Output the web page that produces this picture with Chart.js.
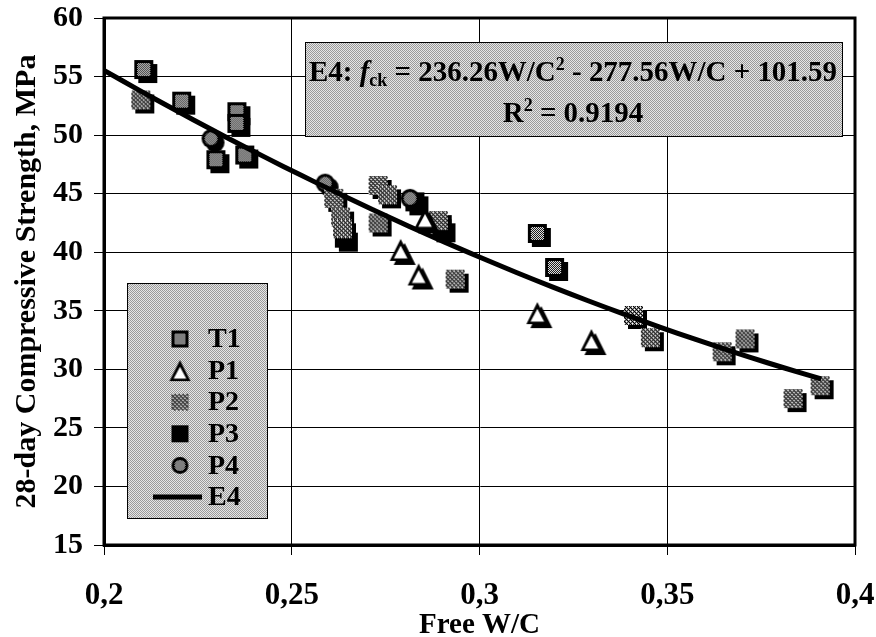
<!DOCTYPE html>
<html lang="en">
<head>
<meta charset="UTF-8">
<title>28-day Compressive Strength vs Free W/C</title>
<script src="https://cdn.jsdelivr.net/npm/chart.js"></script>
<style>
  body { margin: 0; background: #fff; }
  canvas { display: block; }
</style>
</head>
<body>
<canvas id="strengthChart" width="876" height="637"></canvas>
<script>
// free W/C ratio and 28-day strength (MPa) for each mix series
const t1WC  = [0.2106, 0.2207, 0.2354, 0.2354, 0.2298, 0.2375, 0.3154, 0.3200];
const t1Fck = [55.6, 52.9, 52.0, 51.0, 47.9, 48.3, 41.6, 38.7];
const p1WC  = [0.2790, 0.2838, 0.2855, 0.3154, 0.3298];
const p1Fck = [40.2, 38.1, 42.9, 34.8, 32.5];
const p2WC  = [0.2098, 0.2612, 0.2630, 0.2635, 0.2730, 0.2755, 0.2730, 0.2890, 0.2935, 0.3410, 0.3455, 0.3646, 0.3707, 0.3835, 0.3907];
const p2Fck = [53.0, 44.6, 43.0, 42.0, 45.7, 44.9, 42.5, 42.7, 37.7, 34.6, 32.7, 31.5, 32.6, 27.5, 28.6];
const p3WC  = [0.2640, 0.2828, 0.2900];
const p3Fck = [41.2, 44.3, 42.0];
const p4WC  = [0.2285, 0.2589, 0.2815];
const p4Fck = [49.7, 45.9, 44.6];

// E4 fit: fck = a*wc^2 + b*wc + c
const e4Coef  = [236.26, -277.56, 101.59];
const e4R2    = 0.9194;
const e4Range = [0.2, 0.391];

const xTicks = [0.2, 0.25, 0.3, 0.35, 0.4];
const yTicks = [15, 20, 25, 30, 35, 40, 45, 50, 55, 60];

const FONT = "'Liberation Serif', 'Times New Roman', serif";

function pairs(xs, ys) {
  return xs.map((x, i) => ({ x: x, y: ys[i] }));
}

function e4Points() {
  const pts = [];
  for (let i = 0; i <= 40; i++) {
    const x = e4Range[0] + (e4Range[1] - e4Range[0]) * i / 40;
    pts.push({ x: x, y: e4Coef[0] * x * x + e4Coef[1] * x + e4Coef[2] });
  }
  return pts;
}

// 2x2 checker tile used for the screened fills
function tile(a, b) {
  const c = document.createElement('canvas');
  c.width = c.height = 2;
  const g = c.getContext('2d');
  g.fillStyle = b; g.fillRect(0, 0, 2, 2);
  g.fillStyle = a; g.fillRect(0, 0, 1, 1); g.fillRect(1, 1, 1, 1);
  return c;
}

function makeMarker(kind, s, off) {
  const pad = off + 2;
  const c = document.createElement('canvas');
  c.width = c.height = s + pad * 2;
  const g = c.getContext('2d');
  const x0 = pad, y0 = pad;
  const dots = g.createPattern(tile('#000', '#fff'), 'repeat');

  const tri = (dx, dy, inset) => {
    g.beginPath();
    g.moveTo(x0 + dx + s / 2, y0 + dy + inset * 1.9);
    g.lineTo(x0 + dx + s - inset * 1.2, y0 + dy + s - inset * 0.7);
    g.lineTo(x0 + dx + inset * 1.2, y0 + dy + s - inset * 0.7);
    g.closePath();
  };
  const circ = (dx, dy, r) => {
    g.beginPath();
    g.arc(x0 + dx + s / 2, y0 + dy + s / 2, r, 0, Math.PI * 2);
  };

  g.fillStyle = '#000';
  if (kind === 'square') {
    if (off) g.fillRect(x0 + off, y0 + off, s, s);
    g.fillRect(x0, y0, s, s);
    g.fillStyle = dots;
    g.fillRect(x0 + 3, y0 + 3, s - 6, s - 6);
  } else if (kind === 'hatch') {
    if (off) g.fillRect(x0 + off, y0 + off, s, s);
    g.fillStyle = '#fff';
    g.fillRect(x0, y0, s, s);
    g.save();
    g.beginPath(); g.rect(x0, y0, s, s); g.clip();
    g.strokeStyle = '#000'; g.lineWidth = 1.3;
    for (let k = -s; k < 2 * s; k += 4) {
      g.beginPath(); g.moveTo(x0 + k, y0); g.lineTo(x0 + k + s, y0 + s); g.stroke();
    }
    g.lineWidth = 0.8;
    for (let k = -s; k < 2 * s; k += 4) {
      g.beginPath(); g.moveTo(x0 + k + s, y0); g.lineTo(x0 + k, y0 + s); g.stroke();
    }
    g.restore();
  } else if (kind === 'black') {
    if (off) g.fillRect(x0 + off, y0 + off, s, s);
    g.fillRect(x0, y0, s, s);
  } else if (kind === 'circle') {
    if (off) { circ(off, off, s / 2); g.fill(); }
    circ(0, 0, s / 2); g.fill();
    g.fillStyle = dots;
    circ(0, 0, s / 2 - 3); g.fill();
  } else if (kind === 'triangle') {
    if (off) { tri(off, off, 0); g.fill(); }
    tri(0, 0, 0); g.fill();
    g.fillStyle = '#fff';
    tri(0, 0, 3.5); g.fill();
  }
  return c;
}

const markers = {
  T1: makeMarker('square', 19, 4),
  P1: makeMarker('triangle', 22, 4),
  P2: makeMarker('hatch', 19, 4),
  P3: makeMarker('black', 19, 4),
  P4: makeMarker('circle', 19, 4)
};
const legendMarkers = {
  T1: makeMarker('square', 17, 0),
  P1: makeMarker('triangle', 21, 0),
  P2: makeMarker('hatch', 17, 0),
  P3: makeMarker('black', 17, 0),
  P4: makeMarker('circle', 17, 0)
};

function screenFill(ctx) {
  return ctx.createPattern(tile('#9a9a9a', '#e6e6e6'), 'repeat');
}

// equation panel and legend panel drawn inside the plot
const panels = {
  id: 'panels',
  beforeDatasetsDraw(chart) {
    const ctx = chart.ctx;
    ctx.save();
    // equation box
    ctx.fillStyle = screenFill(ctx);
    ctx.fillRect(305, 42, 537, 94);
    ctx.strokeStyle = '#000'; ctx.lineWidth = 1;
    ctx.strokeRect(305.5, 42.5, 537, 94);
    // legend box
    ctx.fillStyle = screenFill(ctx);
    ctx.fillRect(127, 283, 140, 235);
    ctx.strokeRect(127.5, 283.5, 140, 235);
    ctx.restore();
  },
  afterDatasetsDraw(chart) {
    const ctx = chart.ctx;
    const a = chart.chartArea;
    ctx.save();
    // plot frame
    ctx.strokeStyle = '#000'; ctx.lineWidth = 3;
    ctx.strokeRect(a.left, a.top, a.right - a.left, a.bottom - a.top);

    // equation text
    const big = 'bold 29px ' + FONT, small = 'bold 18px ' + FONT;
    const parts = [
      { t: 'E4: ', f: big, dy: 0 },
      { t: 'f', f: 'italic bold 29px ' + FONT, dy: 0 },
      { t: 'ck', f: small, dy: 5 },
      { t: ' = ' + e4Coef[0].toFixed(2) + 'W/C', f: big, dy: 0 },
      { t: '2', f: small, dy: -11 },
      { t: ' - ' + (-e4Coef[1]).toFixed(2) + 'W/C + ' + e4Coef[2].toFixed(2), f: big, dy: 0 }
    ];
    let total = 0;
    parts.forEach(p => { ctx.font = p.f; p.w = ctx.measureText(p.t).width; total += p.w; });
    const sx = 528 / total;
    ctx.fillStyle = '#000';
    ctx.textBaseline = 'alphabetic';
    ctx.textAlign = 'left';
    ctx.save();
    ctx.translate(573 - total * sx / 2, 81);
    ctx.scale(sx, 1);
    let cx = 0;
    parts.forEach(p => { ctx.font = p.f; ctx.fillText(p.t, cx, p.dy); cx += p.w; });
    ctx.restore();

    // R^2 line
    const r1 = 'R', r2 = '2', r3 = ' = ' + e4R2.toFixed(4);
    ctx.font = big; const w1 = ctx.measureText(r1).width, w3 = ctx.measureText(r3).width;
    ctx.font = small; const w2 = ctx.measureText(r2).width;
    ctx.save();
    ctx.translate(573 - (w1 + w2 + w3) * sx / 2, 122);
    ctx.scale(sx, 1);
    ctx.font = big; ctx.fillText(r1, 0, 0);
    ctx.font = small; ctx.fillText(r2, w1, -11);
    ctx.font = big; ctx.fillText(r3, w1 + w2, 0);
    ctx.restore();

    // legend entries
    const names = ['T1', 'P1', 'P2', 'P3', 'P4', 'E4'];
    ctx.font = 'bold 28px ' + FONT;
    ctx.textBaseline = 'middle';
    names.forEach((n, i) => {
      const y = 339 + i * 31.6;
      if (n === 'E4') {
        ctx.fillRect(153, y - 2.5, 49, 5);
      } else {
        const m = legendMarkers[n];
        ctx.drawImage(m, 180 - m.width / 2, y - m.height / 2);
      }
      ctx.fillText(n, 208, y + 1);
    });
    ctx.restore();
  }
};

Chart.defaults.font.family = FONT;
Chart.defaults.font.weight = 'bold';
Chart.defaults.color = '#000';

const ctx = document.getElementById('strengthChart').getContext('2d');
new Chart(ctx, {
  type: 'scatter',
  data: {
    datasets: [
      { label: 'E4', data: e4Points(), showLine: true, borderColor: '#000', borderWidth: 5,
        pointRadius: 0, fill: false, order: 0 },
      { label: 'T1', data: pairs(t1WC, t1Fck), pointStyle: markers.T1, order: 2 },
      { label: 'P1', data: pairs(p1WC, p1Fck), pointStyle: markers.P1, order: 1 },
      { label: 'P2', data: pairs(p2WC, p2Fck), pointStyle: markers.P2, order: 1 },
      { label: 'P3', data: pairs(p3WC, p3Fck), pointStyle: markers.P3, order: 3 },
      { label: 'P4', data: pairs(p4WC, p4Fck), pointStyle: markers.P4, order: 1 }
    ]
  },
  options: {
    responsive: false,
    animation: false,
    layout: { padding: { top: 18, right: 21, left: 0, bottom: 0 } },
    plugins: { legend: { display: false }, tooltip: { enabled: false } },
    scales: {
      x: {
        type: 'linear', min: 0.2, max: 0.4,
        afterBuildTicks: s => { s.ticks = xTicks.map(v => ({ value: v })); },
        afterFit: s => { s.height = 92; s.paddingLeft = 0; s.paddingRight = 0; },
        ticks: {
          font: { size: 31, weight: 'bold' }, color: '#000', padding: 22,
          callback: v => String(v).replace('.', ',')
        },
        grid: { color: '#000', lineWidth: 1, tickLength: 10 },
        border: { color: '#000', width: 3 },
        title: { display: true, text: 'Free W/C', color: '#000', padding: { top: 0, bottom: -3 },
                 font: { size: 29, weight: 'bold', lineHeight: 1 } }
      },
      y: {
        type: 'linear', min: 15, max: 60,
        afterBuildTicks: s => { s.ticks = yTicks.map(v => ({ value: v })); },
        afterFit: s => { s.width = 104; s.paddingTop = 0; s.paddingBottom = 0; },
        ticks: { font: { size: 30, weight: 'bold' }, color: '#000', padding: 11 },
        grid: { color: '#000', lineWidth: 1, tickLength: 10 },
        border: { color: '#000', width: 3 },
        title: { display: true, text: '28-day Compressive Strength, MPa', color: '#000',
                 padding: { top: 12, bottom: 0 },
                 font: { size: 30, weight: 'bold', lineHeight: 1 } }
      }
    }
  },
  plugins: [panels]
});
</script>
</body>
</html>
